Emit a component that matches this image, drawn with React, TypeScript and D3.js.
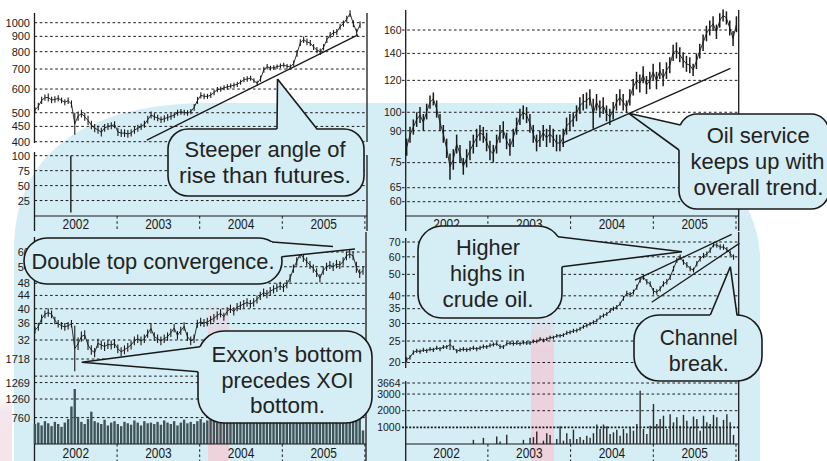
import React from "react";
import * as d3 from "d3";

const W = 827;
const H = 461;

// ---------- DATA ----------
const yearLabels = ["2002", "2003", "2004", "2005"];
const years = [2002, 2003, 2004, 2005];

// Top-left: oil index (log price) [low, high], biweekly Jan 2002 - Nov 2005
const tlRange = [2002.006, 2005.941];
const tlBars: [number, number][] = [
  [500, 522], [510, 540], [535, 565], [548, 575], [545, 580], [538, 565], [540, 568], [545, 572], [538, 562], [530, 555],
  [535, 562], [520, 550], [422, 500], [470, 505], [482, 512], [470, 500], [455, 488], [440, 470], [430, 458], [425, 452],
  [416, 445], [432, 458], [438, 462], [440, 465], [444, 468], [418, 445], [415, 440], [415, 440], [412, 438], [416, 440],
  [425, 450], [432, 456], [438, 460], [445, 470], [460, 488], [478, 505], [472, 498], [468, 492], [462, 486], [465, 490],
  [470, 495], [474, 498], [480, 502], [488, 512], [492, 515], [490, 512], [488, 510], [494, 515], [508, 535], [535, 565],
  [558, 585], [555, 580], [556, 578], [560, 585], [572, 598], [585, 610], [588, 612], [594, 618], [598, 622], [602, 626],
  [606, 630], [610, 635], [620, 645], [632, 658], [635, 662], [640, 665], [628, 652], [615, 640], [635, 665], [680, 712],
  [698, 728], [692, 718], [695, 720], [700, 725], [705, 730], [708, 735], [702, 728], [698, 725], [715, 748], [770, 810],
  [835, 880], [855, 900], [840, 885], [835, 875], [810, 848], [790, 830], [780, 820], [808, 848], [855, 900], [888, 930],
  [905, 945], [910, 952], [948, 992], [970, 1018], [1005, 1055], [1045, 1100], [965, 1020], [905, 955], [960, 1010],
];
const tlPriceTicks = [1000, 900, 800, 700, 600, 500, 450, 400];
const tlVolTicks = [100, 75, 50, 25];
const tlVolume = [{ t: 2002.44, v: 100 }];
const tlTrend = [{ t: 2003.36, v: 405 }, { t: 2005.916, v: 910 }];

// Top-right: oil service index [low, high]
const trRange = [2002.018, 2006.005];
const trBars: [number, number][] = [
  [78, 86], [84, 92], [88, 96], [92, 100], [94, 103], [90, 99], [96, 105], [102, 110], [104, 112], [97, 107],
  [90, 99], [84, 93], [77, 86], [68, 79], [72, 81], [79, 88], [75, 83], [70, 77], [73, 81], [76, 85],
  [79, 88], [82, 91], [85, 93], [84, 92], [80, 89], [76, 85], [75, 83], [79, 88], [84, 93], [86, 95],
  [81, 89], [78, 86], [82, 91], [88, 97], [93, 102], [96, 104], [94, 103], [89, 99], [84, 93], [80, 88],
  [82, 90], [85, 93], [82, 91], [84, 93], [82, 91], [80, 88], [80, 88], [82, 91], [88, 97], [90, 99],
  [92, 100], [95, 104], [99, 109], [101, 111], [102, 112], [104, 114], [91, 108], [101, 111], [97, 107], [99, 109],
  [95, 104], [93, 102], [96, 106], [101, 111], [104, 114], [101, 111], [99.5, 107], [104, 114], [110, 121], [114, 126],
  [112, 124], [118, 130], [111, 123], [114, 126], [120, 132], [114, 126], [121, 133], [116, 128], [121, 133], [125, 137],
  [134, 147], [136, 149], [133, 145], [129, 141], [126, 138], [125, 137], [123, 132], [128, 140], [136, 148], [142, 156],
  [150, 164], [155, 169], [159, 173], [152, 165], [162, 176], [168, 180], [165, 178], [155, 169], [146, 159], [158, 173],
];
const trPriceTicks = [160, 140, 120, 100, 90, 75, 65, 60];
const trTrend = [{ t: 2003.895, v: 83.7 }, { t: 2005.933, v: 128.5 }];

// Bottom-left: Exxon [low, high]
const blRange = [2002.006, 2005.977];
const blBars: [number, number][] = [
  [33.5, 35.2], [34.2, 36.2], [36.2, 38.4], [37.4, 39.5], [37.8, 40.1], [37.4, 39.5], [35.8, 37.8], [35.0, 36.9], [34.5, 36.4], [34.2, 36.1],
  [34.5, 36.4], [35.0, 36.9], [25.6, 35.4], [29.8, 32.6], [31.6, 34.0], [32.1, 34.3], [29.8, 32.0], [28.8, 30.8], [28.3, 30.2], [30.2, 32.3],
  [29.9, 31.9], [29.6, 31.5], [30.0, 32.0], [29.9, 31.9], [30.2, 32.2], [29.1, 31.0], [28.5, 30.4], [28.9, 30.8], [29.4, 31.3], [29.9, 31.9],
  [30.8, 32.8], [31.3, 33.3], [30.8, 32.8], [31.3, 33.3], [32.5, 34.5], [33.5, 36.0], [31.8, 33.8], [31.3, 33.3], [30.8, 32.8], [31.3, 33.3],
  [31.8, 33.8], [32.7, 34.7], [33.8, 35.9], [32.1, 34.1], [33.2, 35.2], [34.2, 36.3], [31.8, 33.8], [30.8, 32.8], [31.3, 33.3], [34.9, 37.0],
  [35.3, 37.5], [35.1, 37.2], [35.3, 37.5], [35.8, 38.0], [36.3, 38.5], [37.0, 39.3], [37.6, 39.9], [36.7, 38.9], [38.1, 40.4], [38.8, 41.2],
  [38.1, 40.4], [39.3, 41.7], [39.7, 42.1], [40.2, 42.6], [40.6, 43.1], [40.2, 42.6], [40.6, 43.1], [41.5, 44.0], [42.6, 45.2], [43.6, 46.2],
  [43.1, 45.7], [44.0, 46.7], [44.6, 47.3], [45.1, 47.9], [45.7, 48.5], [45.1, 47.9], [46.3, 49.1], [48.3, 51.3], [51.7, 54.9], [54.4, 57.8],
  [57.4, 61.0], [55.9, 59.3], [54.4, 57.8], [53.1, 56.3], [51.7, 54.9], [50.2, 53.4], [48.3, 51.3], [51.0, 54.2], [52.4, 55.6], [53.1, 56.3],
  [52.4, 55.6], [53.4, 56.7], [53.1, 56.3], [54.4, 57.8], [56.6, 60.2], [57.4, 61.0], [56.6, 60.2], [51.7, 56.0], [49.8, 53.0], [51.0, 54.2],
];
const blVolume = [
  560, 600, 520, 640, 580, 500, 620, 560, 480, 600,
  700, 1050, 1540, 760, 620, 560, 700, 905, 640, 600,
  560, 680, 520, 600, 640, 560, 500, 620, 580, 540,
  660, 600, 520, 640, 580, 600, 560, 620, 540, 660,
  600, 560, 640, 520, 600, 680, 580, 620, 560, 640,
  700, 600, 660, 720, 640, 600, 700, 660, 620, 720,
  680, 640, 700, 660, 720, 680, 640, 700, 740, 680,
  660, 720, 700, 680, 740, 700, 660, 720, 760, 700,
  680, 740, 700, 720, 680, 740, 700, 660, 720, 700,
  740, 680, 720, 700, 740, 720, 680, 700, 720, 380,
];
const blPriceTicks = [60, 54, 48, 44, 40, 36, 32];
const blVolTickLabels = ["1718", "", "1269", "1260", "760"];
const blVolTickAt = [2380, 1900, 1720, 1260, 740];

// Bottom-right: crude oil [low, high]
const brRange = [2002.018, 2005.97];
const brBars: [number, number][] = [
  [20.0, 21.2], [20.6, 21.6], [21.7, 22.7], [22.1, 23.1], [21.9, 22.9], [22.3, 23.3], [22.1, 23.1], [22.5, 23.5], [22.3, 23.3], [22.8, 23.8],
  [22.5, 23.5], [23.0, 24.0], [23.0, 24.0], [22.8, 25.5], [22.8, 23.8], [22.0, 23.0], [22.3, 23.3], [22.5, 23.5], [22.3, 23.3], [22.5, 23.5],
  [22.8, 23.8], [22.5, 23.5], [22.8, 23.8], [23.1, 24.1], [23.0, 24.0], [23.4, 24.4], [23.6, 24.6], [23.8, 24.8], [23.0, 24.2], [23.0, 24.0],
  [23.8, 24.8], [24.0, 25.0], [23.8, 24.8], [24.0, 25.0], [23.8, 24.8], [24.1, 25.1], [24.0, 25.0], [24.0, 25.0], [24.4, 25.4], [24.4, 25.4],
  [25.0, 26.0], [24.7, 25.7], [25.0, 26.0], [25.4, 26.4], [25.4, 26.4], [25.9, 26.9], [25.9, 26.9], [26.1, 27.1], [26.6, 27.8], [26.8, 28.0],
  [27.2, 28.4], [27.3, 28.5], [27.8, 29.0], [28.4, 29.6], [28.8, 30.0], [29.3, 30.5], [29.8, 31.0], [30.3, 31.5], [31.3, 32.7], [31.9, 33.3],
  [32.4, 33.8], [33.5, 34.9], [34.2, 35.8], [34.8, 36.4], [36.0, 37.6], [38.0, 40.0], [40.0, 42.2], [39.4, 41.6], [40.5, 42.7], [42.6, 45.0],
  [45.8, 48.4], [47.2, 50.0], [45.0, 47.6], [44.0, 46.6], [40.5, 43.4], [40.4, 42.8], [41.8, 44.2], [44.0, 46.6], [45.0, 47.6], [47.2, 50.0],
  [51.6, 54.6], [56.2, 59.4], [58.2, 61.5], [55.2, 58.4], [53.6, 56.8], [51.6, 54.6], [51.0, 53.6], [54.3, 57.5], [57.2, 60.4], [59.1, 62.5],
  [60.0, 63.4], [62.5, 66.1], [66.2, 69.8], [65.9, 69.7], [64.5, 68.3], [64.5, 68.3], [62.9, 66.5], [60.5, 64.0], [58.2, 61.5],
];
const brVolume = [
  0, 0, 0, 0, 0, 0, 0, 0, 0, 0,
  0, 0, 0, 0, 0, 0, 0, 0, 0, 0,
  250, 0, 0, 370, 0, 0, 0, 450, 150, 0,
  550, 0, 0, 0, 0, 250, 0, 370, 410, 750,
  0, 200, 650, 540, 0, 300, 1060, 200, 650, 300,
  860, 300, 420, 250, 500, 380, 650, 1170, 900, 1170,
  1060, 600, 700, 850, 500, 900, 650, 1000, 800, 1200,
  3200, 900, 600, 1100, 2400, 1200, 1500, 1700, 900, 1780,
  1300, 1600, 1100, 1750, 1400, 1000, 1650, 1500, 800, 1700,
  1300, 1200, 1750, 1600, 1000, 1450, 1780, 1300, 550,
];
const brPriceTicks = [70, 60, 50, 40, 35, 30, 25, 20];
const brVolTicks = [3664, 3000, 2000, 1000];
const brChannelUpper = [{ t: 2004.779, v: 47.1 }, { t: 2005.948, v: 75.8 }];
const brChannelLower = [{ t: 2004.981, v: 37.4 }, { t: 2006.041, v: 69.0 }];

// ---------- SCALES ----------
const xL = d3.scaleLinear().domain([2002, 2006]).range([34.5, 364.9]);
const xR = d3.scaleLinear().domain([2002, 2006]).range([405.2, 736]);
const yTL = d3.scaleLog().domain([400, 1000]).range([141.7, 22.7]);
const yTLv = d3.scaleLinear().domain([0, 100]).range([215.5, 155.7]);
const yTR = d3.scaleLog().domain([60, 160]).range([201.7, 30]);
const yBL = d3.scaleLog().domain([32, 60]).range([340, 252]);
const yBLv = d3.scaleLinear().domain([0, 1260]).range([444, 399]);
const yBR = d3.scaleLog().domain([20, 70]).range([362.5, 242]);
const yBRv = d3.scaleLinear().domain([0, 3664]).range([444, 383]);

const CYAN = "#d5edf4";
const INK = "#1a1a1a";
const FONT = "'Liberation Sans', Arial, Helvetica, sans-serif";

const times = (n: number, r: number[]) => d3.range(n).map((i) => r[0] + (i * (r[1] - r[0])) / (n - 1));

function Bars({ data, range, x, y, sw }: any) {
  const ts = times(data.length, range);
  const line = d3
    .line<[number, number]>()
    .x((_, i) => x(ts[i]))
    .y((d) => y(Math.sqrt(d[0] * d[1])));
  return (
    <g>
      <path d={line(data) || ""} fill="none" stroke={INK} strokeWidth={0.9} />
      {data.map((d: [number, number], i: number) => (
        <line key={i} x1={x(ts[i])} x2={x(ts[i])} y1={y(d[0])} y2={y(d[1])} stroke={INK} strokeWidth={sw} />
      ))}
    </g>
  );
}

function VolBars({ data, range, x, y, color, sw }: any) {
  const ts = times(data.length, range);
  return (
    <g>
      {data.map((v: number, i: number) =>
        v > 0 ? (
          <line key={i} x1={x(ts[i])} x2={x(ts[i])} y1={y(0)} y2={y(v)} stroke={color} strokeWidth={sw} />
        ) : null
      )}
    </g>
  );
}

function Grid({ ticks, labels, y, x0, x1, lx, fs = 11, strong }: any) {
  return (
    <g>
      {ticks.map((t: number, i: number) => {
        const bold = strong !== undefined && strong === t;
        return (
          <g key={i}>
            <line
              x1={x0}
              x2={x1}
              y1={y(t)}
              y2={y(t)}
              stroke={INK}
              strokeWidth={bold ? 1.9 : 1}
              strokeDasharray={bold ? "2 1.6" : "2.6 2.6"}
            />
            <text x={lx} y={y(t)} dy="0.36em" textAnchor="end" fontSize={fs} fontFamily={FONT} fill={INK}>
              {labels ? labels[i] : String(t)}
            </text>
          </g>
        );
      })}
    </g>
  );
}

function YearAxis({ x, yTop, yBot, x0, x1, base }: any) {
  return (
    <g>
      <line x1={x0} x2={x1} y1={yTop} y2={yTop} stroke={INK} strokeWidth={1.2} />
      {years.map((yr, i) => (
        <g key={yr}>
          <line x1={x(yr + 1)} x2={x(yr + 1)} y1={yTop} y2={yBot} stroke={INK} strokeWidth={1} strokeDasharray="2.6 2.6" />
          <text x={x(yr + 0.5) - 13.2} y={base} fontSize={14} textLength={26.5} lengthAdjust="spacingAndGlyphs" fontFamily={FONT} fill={INK}>
            {yearLabels[i]}
          </text>
        </g>
      ))}
    </g>
  );
}

function VLine({ x, y1, y2 }: any) {
  return <line x1={x} x2={x} y1={y1} y2={y2} stroke={INK} strokeWidth={1.3} />;
}

type Pt = [number, number];
function Callout({ box, p1, tips, p2, lines }: { box: number[]; p1: Pt; tips: Pt[]; p2: Pt; lines: [string, number, number, number][] }) {
  const [bx, by, bw, bh, r] = box;
  const cx = bx + bw / 2;
  const cy = by + bh / 2;
  const inward = (p: Pt): Pt => {
    const dx = cx - p[0];
    const dy = cy - p[1];
    const d = Math.hypot(dx, dy);
    return [p[0] + (dx / d) * 5, p[1] + (dy / d) * 5];
  };
  const poly = [p1, ...tips, p2, inward(p2), inward(p1)];
  const first = tips[0];
  const last = tips[tips.length - 1];
  return (
    <g>
      <rect x={bx} y={by} width={bw} height={bh} rx={r} ry={r} fill={CYAN} stroke={INK} strokeWidth={1.6} />
      <path d={"M" + poly.map((p) => p.join(",")).join("L") + "Z"} fill={CYAN} />
      <path d={`M${p1.join(",")}L${first.join(",")}M${last.join(",")}L${p2.join(",")}`} fill="none" stroke={INK} strokeWidth={1.6} />
      {lines.map(([t, lcx, base, len], i) => (
        <text key={i} x={lcx - len / 2} y={base} fontSize={22.5} textLength={len} lengthAdjust="spacingAndGlyphs" fontFamily={FONT} fill="#222">
          {t}
        </text>
      ))}
    </g>
  );
}

function Trend({ pts, x, y }: any) {
  return (
    <line x1={x(pts[0].t)} y1={y(pts[0].v)} x2={x(pts[1].t)} y2={y(pts[1].v)} stroke={INK} strokeWidth={1.3} />
  );
}

export default function App() {
  return (
    <svg width={W} height={H} style={{ display: "block", position: "absolute", left: 0, top: 0, background: "#fff" }}>
      <defs>
        <linearGradient id="pink" x1="0" y1="0" x2="0" y2="1">
          <stop offset="0" stopColor="#ecd0dc" stopOpacity="0" />
          <stop offset="0.25" stopColor="#ecd0dc" stopOpacity="0.9" />
          <stop offset="1" stopColor="#efd2dc" stopOpacity="1" />
        </linearGradient>
      </defs>
      {/* watermark */}
      <path d="M14,461 L14,250 C14,150 90,103 210,103 L570,103 C630,103 760,160 760,260 L760,461 Z" fill={CYAN} />
      <rect x={208} y={300} width={21} height={161} fill="url(#pink)" />
      <rect x={531} y={310} width={23} height={151} fill="url(#pink)" />
      <rect x={0} y={395} width={12} height={66} fill="url(#pink)" opacity={0.6} />

      {/* ---------- TOP LEFT ---------- */}
      <Grid ticks={tlPriceTicks} y={yTL} x0={34.5} x1={367} lx={30} />
      <Grid ticks={tlVolTicks} y={yTLv} x0={34.5} x1={367} lx={30} />
      <VLine x={34.5} y1={13} y2={143} />
      <VLine x={34.5} y1={152} y2={231} />
      <VLine x={367} y1={13} y2={142} />
      <VLine x={367} y1={155} y2={231} />
      <YearAxis x={xL} yTop={216} yBot={231} x0={34.5} x1={367} base={228.8} />
      <Bars data={tlBars} range={tlRange} x={xL} y={yTL} sw={1.1} />
      {tlVolume.map((d, i) => (
        <line key={i} x1={xL(d.t)} x2={xL(d.t)} y1={yTLv(0) - 3} y2={yTLv(d.v)} stroke={INK} strokeWidth={1.4} />
      ))}
      <Trend pts={tlTrend} x={xL} y={yTL} />

      {/* ---------- TOP RIGHT ---------- */}
      <Grid ticks={trPriceTicks} y={yTR} x0={402} x1={738.7} lx={401.5} fs={10.5} />
      <VLine x={405.7} y1={10} y2={231} />
      <VLine x={738.7} y1={10} y2={231} />
      <YearAxis x={xR} yTop={216} yBot={231} x0={405.7} x1={738.7} base={228.8} />
      <Bars data={trBars} range={trRange} x={xR} y={yTR} sw={1.5} />
      <Trend pts={trTrend} x={xR} y={yTR} />

      {/* ---------- BOTTOM LEFT ---------- */}
      <Grid ticks={blPriceTicks} y={yBL} x0={34.5} x1={366} lx={30} />
      <Grid ticks={blVolTickAt} labels={blVolTickLabels} y={yBLv} x0={34.5} x1={366} lx={30} />
      <VLine x={34.5} y1={237} y2={461} />
      <VLine x={366} y1={232} y2={461} />
      <VolBars data={blVolume} range={blRange} x={xL} y={yBLv} color="#3e5459" sw={2.4} />
      <YearAxis x={xL} yTop={444} yBot={461} x0={34.5} x1={366} base={457.5} />
      <Bars data={blBars} range={blRange} x={xL} y={yBL} sw={1.1} />

      {/* ---------- BOTTOM RIGHT ---------- */}
      <Grid ticks={brPriceTicks} y={yBR} x0={402} x1={738.7} lx={400.5} fs={10.5} />
      <Grid ticks={brVolTicks} y={yBRv} x0={402} x1={738.7} lx={400.5} fs={10.5} strong={1000} />
      <VLine x={405.7} y1={238} y2={368} />
      <VLine x={405.7} y1={381} y2={461} />
      <VLine x={738.7} y1={232} y2={461} />
      <VolBars data={brVolume} range={brRange} x={xR} y={yBRv} color="#2a2a2a" sw={1.4} />
      <YearAxis x={xR} yTop={444} yBot={461} x0={405.7} x1={738.7} base={457.5} />
      <Bars data={brBars} range={brRange} x={xR} y={yBR} sw={1.1} />
      <Trend pts={brChannelUpper} x={xR} y={yBR} />
      <Trend pts={brChannelLower} x={xR} y={yBR} />

      {/* ---------- CALLOUTS ---------- */}
      <Callout
        box={[168, 129, 196, 67, 20]}
        p1={[277, 129]}
        tips={[[277.5, 79]]}
        p2={[317, 129]}
        lines={[["Steeper angle of", 265, 156.7, 161], ["rise than futures.", 265, 183, 172]]}
      />
      <Callout
        box={[679, 114, 150, 95, 18]}
        p1={[680.5, 125]}
        tips={[[628.7, 113.3]]}
        p2={[679, 150]}
        lines={[["Oil service", 758.2, 143.3, 103], ["keeps up with", 757.5, 169, 134], ["overall trend.", 758.5, 195, 130]]}
      />
      <Callout
        box={[24, 238, 258, 46, 23]}
        p1={[272, 242]}
        tips={[[333, 246.5], [355, 249]]}
        p2={[281.6, 256.7]}
        lines={[["Double top convergence.", 153, 268.5, 243]]}
      />
      <Callout
        box={[198, 331, 174, 92, 26]}
        p1={[200, 346.7]}
        tips={[[81.7, 362.3]]}
        p2={[198, 371.7]}
        lines={[["Exxon\u2019s bottom", 287, 361.7, 151], ["precedes XOI", 287.5, 388.3, 132], ["bottom.", 287.5, 413.3, 75]]}
      />
      <Callout
        box={[418, 226, 144, 92, 24]}
        p1={[558, 236.7]}
        tips={[[682, 251.7]]}
        p2={[562, 266.7]}
        lines={[["Higher", 488, 255, 64], ["highs in", 487.5, 280.5, 75], ["crude oil.", 488, 306.7, 91]]}
      />
      <Callout
        box={[634, 315, 128, 66, 25]}
        p1={[710.3, 315]}
        tips={[[730.3, 266.7]]}
        p2={[737, 315]}
        lines={[["Channel", 698.7, 345, 78], ["break.", 698.8, 370.7, 60]]}
      />
    </svg>
  );
}
